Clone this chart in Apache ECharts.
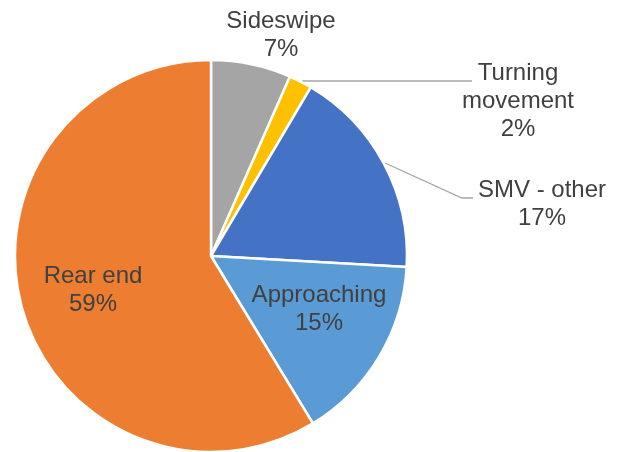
<!DOCTYPE html>
<html>
<head>
<meta charset="utf-8">
<script src="https://cdn.jsdelivr.net/npm/echarts@6/dist/echarts.min.js"></script>
<style>
  html, body { margin: 0; padding: 0; background: #fff; }
  #chart-container { width: 626px; height: 452px; }
</style>
</head>
<body>
<div id="chart-container"></div>
<script>
var categories = ['Sideswipe', 'Turning movement', 'SMV - other', 'Approaching', 'Rear end'];
var shares = [6.6, 1.9, 17.4, 15.4, 58.7];
var colors = ['#A5A5A5', '#FFC000', '#4472C4', '#5B9BD5', '#ED7D31'];
var labelText = ['Sideswipe', 'Turning\nmovement', 'SMV - other', 'Approaching', 'Rear end'];

// where each label block sits (center), and leader lines
var labelPos = [
  { x: 281, y: 35 },
  { x: 518, y: 101, line: [[302, 81], [472, 81]] },
  { x: 542, y: 204, line: [[385, 163], [462, 198], [473, 198]] },
  { x: 319, y: 309 },
  { x: 93, y: 290 }
];

var dom = document.getElementById('chart-container');
var myChart = echarts.init(dom, null, { renderer: 'canvas' });

var pieData = categories.map(function (c, i) {
  var outside = i < 3;
  return {
    name: c,
    value: shares[i],
    itemStyle: { color: colors[i] },
    label: { position: outside ? 'outside' : 'inside' },
    labelLine: { show: i === 1 || i === 2 }
  };
});

var option = {
  animation: false,
  series: [{
    type: 'pie',
    center: [211, 256],
    radius: 196,
    startAngle: 90,
    clockwise: true,
    avoidLabelOverlap: false,
    itemStyle: { borderColor: '#fff', borderWidth: 2.5 },
    label: {
      color: '#404040',
      fontFamily: 'Liberation Sans, Arial, sans-serif',
      fontSize: 24,
      lineHeight: 28,
      align: 'center',
      formatter: function (p) {
        return labelText[p.dataIndex] + '\n' + Math.round(p.percent) + '%';
      }
    },
    labelLine: {
      lineStyle: { color: '#A5A5A5', width: 1.3 }
    },
    labelLayout: function (p) {
      var lp = labelPos[p.dataIndex];
      var r = {
        x: lp.x,
        y: lp.y,
        align: 'center',
        verticalAlign: 'middle'
      };
      if (lp.line) r.labelLinePoints = lp.line;
      return r;
    },
    data: pieData
  }]
};

myChart.setOption(option);
window.addEventListener('resize', myChart.resize);
</script>
</body>
</html>
